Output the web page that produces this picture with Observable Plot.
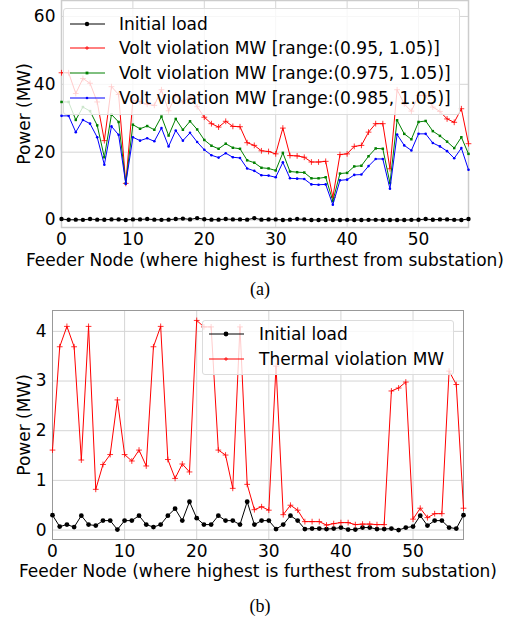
<!DOCTYPE html>
<html>
<head>
<meta charset="utf-8">
<script src="https://cdn.jsdelivr.net/npm/d3@7"></script>
<script src="https://cdn.jsdelivr.net/npm/@observablehq/plot@0.6"></script>
<style>
  html, body { margin: 0; padding: 0; background: #fff; }
  #page { position: relative; width: 514px; height: 617px; overflow: hidden; font-family: "DejaVu Sans", sans-serif; }
  .panel { position: absolute; left: 0; }
  .legend { position: absolute; background: rgba(255,255,255,0.8); border: 1px solid #dcdcdc; border-radius: 3px; box-sizing: border-box; z-index: 2; }
  .legend .row { position: absolute; left: 0; height: 20px; white-space: nowrap; font-size: 17px; line-height: 20px; color: #000; }
  .legend svg { position: absolute; left: 0; top: 0; }
  .legend .lbl { position: absolute; top: 0; }
  .cap { position: absolute; left: 0; width: 514px; text-align: center; font-family: "Liberation Serif", serif; font-size: 18px; padding-left: 6px; box-sizing: border-box; }
</style>
</head>
<body>
<div id="page"></div>
<script>
// ---------------- data ----------------
const nodes = d3.range(58);
const initialLoad = [0.30,0.07,0.11,0.06,0.29,0.11,0.09,0.19,0.19,0.01,0.19,0.19,0.29,0.11,0.06,0.11,0.29,0.43,0.19,0.57,
  0.24,0.11,0.11,0.29,0.19,0.19,0.11,0.57,0.11,0.19,0.19,0.02,0.11,0.29,0.19,0.02,0.03,0.03,0.02,0.03,
  0.05,0.01,0.01,0.05,0.05,0.02,0.02,0.03,0.00,0.05,0.07,0.29,0.09,0.19,0.19,0.05,0.03,0.30];
const volt095 = [43.4,43.4,37.3,41.7,40.3,34.8,23.4,39.3,37.0,10.8,35.2,34.9,34.1,33.8,38.4,32.2,36.8,34.8,36.2,33.4,
  30.3,28.4,27.4,29.1,27.6,27.5,22.8,22.0,20.4,20.2,19.5,27.1,19.0,18.9,18.5,17.1,17.1,17.3,6.7,19.3,
  19.5,21.7,22.0,25.9,28.4,28.4,15.1,38.4,34.2,32.1,36.7,36.7,33.3,32.0,29.8,28.8,32.8,22.5];
const volt0975 = [34.8,34.8,29.5,33.3,32.1,27.9,18.5,31.1,28.9,10.8,28.1,26.9,27.7,26.6,30.5,24.9,29.8,26.6,29.1,26.7,
  23.6,21.9,21.0,22.5,21.3,21.0,17.6,16.9,15.4,15.2,14.6,19.8,14.3,14.1,14.0,12.3,12.3,12.6,5.6,13.7,
  13.9,15.8,16.0,18.8,21.1,21.0,10.9,29.4,25.4,23.8,28.9,29.2,26.2,24.8,23.1,21.2,24.4,19.5];
const volt0985 = [30.7,30.7,25.9,29.5,28.4,24.4,16.3,27.6,25.1,10.7,24.4,23.4,24.1,23.2,27.1,21.7,26.4,23.4,25.7,23.0,
  20.7,19.1,18.4,19.7,18.5,18.3,15.2,14.5,13.2,13.1,12.6,17.0,12.3,12.2,12.1,10.5,10.4,10.5,4.5,11.7,
  11.9,13.3,13.4,15.9,18.0,18.0,9.2,25.2,22.0,20.5,25.4,25.4,22.7,21.7,20.3,18.2,21.2,14.8];
const thermal = [1.61,3.69,4.10,3.69,1.41,4.10,0.82,1.32,1.52,2.62,1.52,1.39,1.61,1.29,3.69,4.10,1.42,1.04,1.33,1.17,
  4.22,4.09,4.09,1.61,1.51,0.84,4.09,0.92,0.41,0.47,0.40,3.30,0.31,0.50,0.40,0.17,0.17,0.17,0.10,0.13,
  0.15,0.15,0.11,0.12,0.12,0.11,0.11,2.80,2.86,2.98,0.22,0.44,0.25,0.33,0.33,3.20,2.93,0.44];

const xTicks = [0,10,20,30,40,50];
const yTicksA = [0,20,40,60];
const yTicksB = [0,1,2,3,4];
const xLabel = "Feeder Node (where highest is furthest from substation)";
const yLabel = "Power (MW)";
const namesA = ["Initial load","Volt violation MW [range:(0.95, 1.05)]","Volt violation MW [range:(0.975, 1.05)]","Volt violation MW [range:(0.985, 1.05)]"];
const namesB = ["Initial load","Thermal violation MW"];
const captions = ["(a)","(b)"];

const page = document.getElementById("page");
const style = {fontFamily:"DejaVu Sans", fontSize:"17px", color:"#000", background:"transparent", overflow:"visible"};
const fmt = d => String(d);

function seriesMarks(vals, color, symbol, r, sw) {
  const data = nodes.map(i => ({x: i, y: vals[i]}));
  const m = [Plot.line(data, {x:"x", y:"y", stroke: color, strokeWidth: 1})];
  if (symbol === "plus") m.push(Plot.dot(data, {x:"x", y:"y", symbol:"plus", r: r, stroke: color, strokeWidth: sw || 0.8}));
  else m.push(Plot.dot(data, {x:"x", y:"y", symbol: symbol, r: r, fill: color, stroke: "none"}));
  return m;
}

// ---------------- panel (a) ----------------
const chartA = Plot.plot({
  width: 514, height: 270, marginLeft: 61, marginRight: 46, marginTop: 0, marginBottom: 43,
  style,
  x: {domain: [0, 57]},
  y: {domain: [-2.2, 64.7]},
  marks: [
    Plot.gridX(xTicks, {stroke: "#d5d5d5", strokeOpacity: 1}),
    Plot.gridY(yTicksA, {stroke: "#d5d5d5", strokeOpacity: 1}),
    Plot.frame({stroke: "#cccccc", strokeWidth: 1.5}),
    Plot.axisX(xTicks, {tickSize: 0, tickPadding: 5, tickFormat: fmt, label: xLabel, labelAnchor: "center", labelArrow: "none", labelOffset: 38}),
    Plot.axisY(yTicksA, {tickSize: 0, tickPadding: 6, tickFormat: fmt, label: yLabel, labelAnchor: "center", labelArrow: "none", labelOffset: 44}),
    ...seriesMarks(initialLoad, "#000", "circle", 2.2),
    ...seriesMarks(volt095, "#ff0000", "plus", 2),
    ...seriesMarks(volt0975, "#008000", "square", 1.4),
    ...seriesMarks(volt0985, "#0000ff", "circle", 1.3)
  ]
});
const pa = document.createElement("div"); pa.className = "panel"; pa.style.top = "0px"; pa.appendChild(chartA); page.appendChild(pa);

// ---------------- panel (b) ----------------
const chartB = Plot.plot({
  width: 514, height: 290, marginLeft: 52, marginRight: 51, marginTop: 10, marginBottom: 51,
  style,
  x: {domain: [0, 57]},
  y: {domain: [-0.19, 4.42]},
  marks: [
    Plot.gridX(xTicks, {stroke: "#d5d5d5", strokeOpacity: 1}),
    Plot.gridY(yTicksB, {stroke: "#d5d5d5", strokeOpacity: 1}),
    Plot.frame({stroke: "#999999", strokeWidth: 1}),
    Plot.axisX(xTicks, {tickSize: 0, tickPadding: 5, tickFormat: fmt, label: xLabel, labelAnchor: "center", labelArrow: "none", labelOffset: 37}),
    Plot.axisY(yTicksB, {tickSize: 0, tickPadding: 6, tickFormat: fmt, label: yLabel, labelAnchor: "center", labelArrow: "none", labelOffset: 35}),
    ...seriesMarks(initialLoad, "#000", "circle", 2.4),
    ...seriesMarks(thermal, "#ff0000", "plus", 2)
  ]
});
const pb = document.createElement("div"); pb.className = "panel"; pb.style.top = "300px"; pb.appendChild(chartB); page.appendChild(pb);

// ---------------- legends ----------------
function legend(box, names, styles, rowYs) {
  const lg = document.createElement("div");
  lg.className = "legend";
  Object.assign(lg.style, {left: box.x + "px", top: box.y + "px", width: box.w + "px", height: box.h + "px"});
  names.forEach((n, i) => {
    const row = document.createElement("div");
    row.className = "row";
    row.style.top = (rowYs[i] - box.y - 10) + "px";
    row.style.left = "0px";
    const s = styles[i];
    let marker = "";
    if (s.sym === "circle") marker = `<circle cx="23" cy="10" r="${s.r}" fill="${s.c}"/>`;
    else if (s.sym === "square") marker = `<rect x="${23 - s.r}" y="${10 - s.r}" width="${2 * s.r}" height="${2 * s.r}" fill="${s.c}"/>`;
    else marker = `<path d="M${23 - s.r},10H${23 + s.r}M23,${10 - s.r}V${10 + s.r}" stroke="${s.c}" stroke-width="0.8"/>`;
    row.innerHTML = `<svg width="45" height="20"><line x1="6" x2="41" y1="10" y2="10" stroke="${s.c}" stroke-width="1"/>${marker}</svg><span class="lbl" style="left:${box.tx}px">${n}</span>`;
    lg.appendChild(row);
  });
  page.appendChild(lg);
}
legend({x: 63, y: 8, w: 397, h: 107, tx: 55}, namesA,
  [{c: "#000", sym: "circle", r: 2.2}, {c: "#ff0000", sym: "plus", r: 2}, {c: "#008000", sym: "square", r: 1.4}, {c: "#0000ff", sym: "circle", r: 1.3}],
  [23, 47, 72, 97]);
legend({x: 202, y: 320, w: 252, h: 55, tx: 56}, namesB,
  [{c: "#000", sym: "circle", r: 2.4}, {c: "#ff0000", sym: "plus", r: 2}],
  [333, 358]);

// ---------------- captions ----------------
[[captions[0], 279], [captions[1], 596]].forEach(([t, y]) => {
  const d = document.createElement("div"); d.className = "cap"; d.style.top = y + "px"; d.textContent = t; page.appendChild(d);
});
</script>
</body>
</html>
